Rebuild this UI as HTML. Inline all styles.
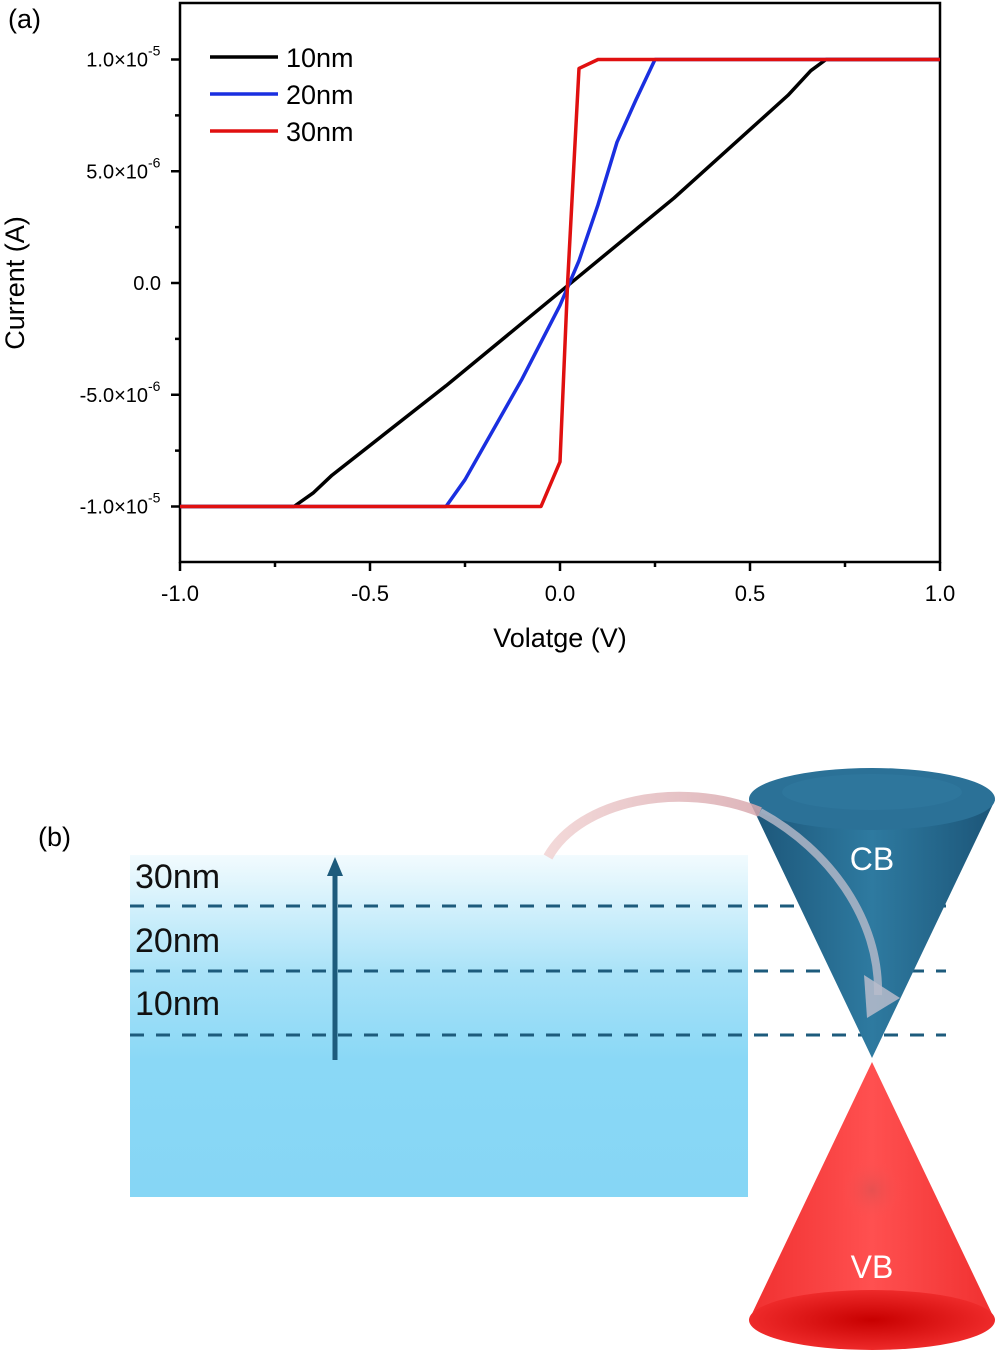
<!DOCTYPE html>
<html><head><meta charset="utf-8"><style>
html,body{margin:0;padding:0;background:#fff;}
svg{display:block;font-family:"Liberation Sans",Arial,sans-serif;}
</style></head><body>
<svg id="fig" width="997" height="1353" viewBox="0 0 997 1353">
<defs>
<linearGradient id="bluebox" x1="0" y1="0" x2="0" y2="1">
<stop offset="0" stop-color="#f2fbfe"/><stop offset="0.35" stop-color="#a8e2f8"/><stop offset="0.6" stop-color="#8ad8f6"/><stop offset="1" stop-color="#86d6f5"/></linearGradient>
<linearGradient id="cbg" x1="0" y1="0" x2="1" y2="0">
<stop offset="0" stop-color="#1c5578"/><stop offset="0.5" stop-color="#2e7aa0"/><stop offset="1" stop-color="#1c5578"/></linearGradient>
<linearGradient id="vbg" x1="0" y1="0" x2="1" y2="0">
<stop offset="0" stop-color="#f03030"/><stop offset="0.5" stop-color="#ff5050"/><stop offset="1" stop-color="#f03030"/></linearGradient>
<radialGradient id="vbbase" cx="0.5" cy="0.5" r="0.5"><stop offset="0" stop-color="#c80000"/><stop offset="1" stop-color="#ee2a2a"/></radialGradient>
<radialGradient id="vbglow" cx="0.5" cy="0.5" r="0.5"><stop offset="0" stop-color="#d85050" stop-opacity="0.6"/><stop offset="1" stop-color="#ff5050" stop-opacity="0"/></radialGradient>
<linearGradient id="pinkarrow" x1="0" y1="0" x2="1" y2="0"><stop offset="0" stop-color="#f1d2d2"/><stop offset="1" stop-color="#d8a8ae"/></linearGradient>
</defs>
<g id="chart"></g>
<text x="8" y="28" font-size="27">(a)</text>

<g>
<text x="38" y="846" font-size="27">(b)</text>
<rect x="130" y="855" width="618" height="342" fill="url(#bluebox)"/>
<g stroke="#1d5b7c" stroke-width="3" stroke-dasharray="14 12">
<line x1="130" y1="906" x2="946" y2="906"/>
<line x1="130" y1="971" x2="946" y2="971"/>
<line x1="130" y1="1035" x2="946" y2="1035"/>
</g>
<g font-size="34" fill="#111">
<text x="135" y="888">30nm</text>
<text x="135" y="952">20nm</text>
<text x="135" y="1015">10nm</text>
</g>
<line x1="335" y1="1060" x2="335" y2="872" stroke="#1d5b7c" stroke-width="5"/>
<polygon points="335,857 327,876 343,876" fill="#1d5b7c"/>
<polygon points="749,800 995,800 872,1058" fill="url(#cbg)"/>
<ellipse cx="872" cy="799" rx="123" ry="31" fill="#2b7197"/>
<ellipse cx="872" cy="792" rx="90" ry="18" fill="#3581a8" opacity="0.3"/>
<text x="872" y="870" font-size="32" fill="#fff" text-anchor="middle">CB</text>
<polygon points="872,1062 749,1320 995,1320" fill="url(#vbg)"/>
<ellipse cx="872" cy="1190" rx="32" ry="32" fill="url(#vbglow)"/>
<ellipse cx="872" cy="1320" rx="123" ry="30" fill="url(#vbbase)"/>
<text x="872" y="1278" font-size="32" fill="#fff" text-anchor="middle">VB</text>
<path d="M548,857 C580,800 680,780 760,812" stroke="url(#pinkarrow)" stroke-width="10" fill="none" opacity="0.85"/>
<path d="M760,812 C830,850 880,920 878,995" stroke="#b9bccb" stroke-width="8" fill="none" opacity="0.8"/>
<polygon points="864,975 900,998 867,1018" fill="#b9bccb" opacity="0.85"/>
</g>
</svg>
<script>
const xTicks=[-1.0,-0.5,0.0,0.5,1.0];
const xTickLabels=["-1.0","-0.5","0.0","0.5","1.0"];
const yTicks=[1e-5,5e-6,0,-5e-6,-1e-5];
const yTickLabels=["1.0×10","5.0×10","0.0","-5.0×10","-1.0×10"];
const yTickExp=["-5","-6","","-6","-5"];
const seriesNames=["10nm","20nm","30nm"];
const seriesColors=["#000000","#1a2fe0","#e01010"];
const v10=[-1,-0.7,-0.65,-0.6,-0.3,0,0.3,0.6,0.66,0.7,1];
const i10=[-10,-10,-9.4,-8.6,-4.6,-0.4,3.8,8.4,9.5,10,10];
const v20=[-1,-0.3,-0.25,-0.2,-0.1,0,0.05,0.1,0.15,0.2,0.25,1];
const i20=[-10,-10,-8.8,-7.3,-4.3,-1.0,1.0,3.5,6.3,8.2,10,10];
const v30=[-1,-0.05,0,0.02,0.05,0.1,1];
const i30=[-10,-10,-8,0,9.6,10,10];
const NS="http://www.w3.org/2000/svg";
const L=180,R=940,T=3,B=562;
const xs=v=>560+v*380;
const ys=i=>283-i*22.35;
const g=document.getElementById('chart');
function mk(t,a,p){const e=document.createElementNS(NS,t);for(const k in a)e.setAttribute(k,a[k]);(p||g).appendChild(e);return e;}
const frame=mk('rect',{x:L,y:T,width:R-L,height:B-T,fill:'none',stroke:'#000','stroke-width':2.5});


xTicks.forEach((v,k)=>{
 const t=mk('line',{x1:xs(v),x2:xs(v),y1:B,y2:B+9,stroke:'#000','stroke-width':2.5});
 
 
 if(k<xTicks.length-1){const m=mk('line',{x1:xs(v+0.25),x2:xs(v+0.25),y1:B,y2:B+5,stroke:'#000','stroke-width':2.5});
 
 }
 const l=mk('text',{x:xs(v),y:601,'font-size':22,'text-anchor':'middle'});l.textContent=xTickLabels[k];
 
 
});
yTicks.forEach((v,k)=>{
 const y=ys(v*1e6);
 const t=mk('line',{x1:L-9,x2:L,y1:y,y2:y,stroke:'#000','stroke-width':2.5});
 
 
 if(k<yTicks.length-1){const m=mk('line',{x1:L-5,x2:L,y1:ys(v*1e6-2.5),y2:ys(v*1e6-2.5),stroke:'#000','stroke-width':2.5});
 
 }
 const l=mk('text',{x:yTickExp[k]?L-32:L-19,y:y+7,'font-size':20,'text-anchor':'end'});l.textContent=yTickLabels[k];
 
 
 if(yTickExp[k]){const e=mk('text',{x:L-32,y:y-4,'font-size':14});e.textContent=yTickExp[k];
 
 }
});
const xt=mk('text',{x:560,y:647,'font-size':27,'text-anchor':'middle'});xt.textContent='Volatge (V)';


const yt=mk('text',{x:0,y:0,'font-size':27,'text-anchor':'middle',transform:'translate(24,283) rotate(-90)'});yt.textContent='Current (A)';


[[v10,i10],[v20,i20],[v30,i30]].forEach((s,k)=>{
 const pts=s[0].map((v,j)=>xs(v)+','+ys(s[1][j])).join(' ');
 const p=mk('polyline',{points:pts,fill:'none',stroke:seriesColors[k],'stroke-width':3.5,'stroke-linejoin':'round'});
 
 
 const ly=57+k*37;
 const ll=mk('line',{x1:210,x2:278,y1:ly,y2:ly,stroke:seriesColors[k],'stroke-width':3.5});
 
 
 const lt=mk('text',{x:286,y:ly+10,'font-size':27});lt.textContent=seriesNames[k];
 
 
});
</script>
</body></html>
